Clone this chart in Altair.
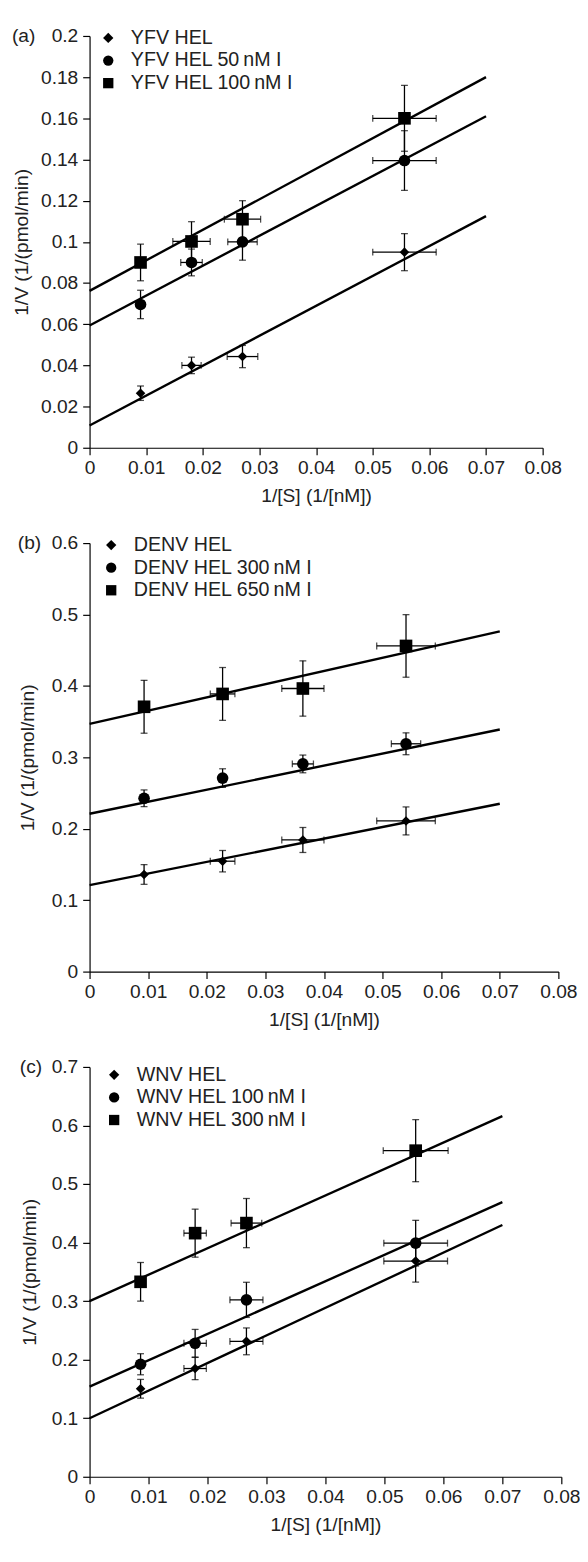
import altair as alt
import pandas as pd

FONT = "Liberation Sans"
FS = 19.5
LFS = 20

# ---------------- panel (a) ----------------
A_LABEL = "(a)"
A_SERIES = ["YFV HEL", "YFV HEL 50\u2009nM I", "YFV HEL 100\u2009nM I"]
A_X = [0.009, 0.018, 0.027, 0.0556]
A_Y = [[0.0265, 0.0400, 0.0443, 0.0950],
       [0.0696, 0.0900, 0.1000, 0.1395],
       [0.0900, 0.1002, 0.1110, 0.1600]]
A_YERR = [[0.0035, 0.0040, 0.0054, 0.0090],
          [0.0069, 0.0065, 0.0089, 0.0145],
          [0.0089, 0.0096, 0.0090, 0.0160]]
A_XERR = [[0.0, 0.0017, 0.0027, 0.0056],
          [0.0, 0.0019, 0.0026, 0.0056],
          [0.0, 0.0033, 0.0032, 0.0056]]
A_LINE_START = [0.0108, 0.0594, 0.0762]
A_LINE_END = [0.1125, 0.1610, 0.1800]
A_YTICKS = [0, 0.02, 0.04, 0.06, 0.08, 0.1, 0.12, 0.14, 0.16, 0.18, 0.2]

# ---------------- panel (b) ----------------
B_LABEL = "(b)"
B_SERIES = ["DENV HEL", "DENV HEL 300\u2009nM I", "DENV HEL 650\u2009nM I"]
B_X = [0.0093, 0.0227, 0.0364, 0.054]
B_Y = [[0.1360, 0.1546, 0.1843, 0.2110],
       [0.2427, 0.2710, 0.2908, 0.3190],
       [0.3708, 0.3888, 0.3964, 0.4560]]
B_YERR = [[0.0138, 0.0150, 0.0175, 0.0196],
          [0.0117, 0.0130, 0.0124, 0.0153],
          [0.0370, 0.0370, 0.0387, 0.0438]]
B_XERR = [[0.0, 0.0021, 0.0036, 0.0050],
          [0.0, 0.0, 0.0018, 0.0025],
          [0.0, 0.0021, 0.0036, 0.0050]]
B_LINE_START = [0.121, 0.221, 0.347]
B_LINE_END = [0.235, 0.339, 0.4765]
B_YTICKS = [0, 0.1, 0.2, 0.3, 0.4, 0.5, 0.6]

# ---------------- panel (c) ----------------
C_LABEL = "(c)"
C_SERIES = ["WNV HEL", "WNV HEL 100\u2009nM I", "WNV HEL 300\u2009nM I"]
C_X = [0.00865, 0.0179, 0.0266, 0.0553]
C_Y = [[0.1503, 0.1849, 0.2313, 0.3685],
       [0.1922, 0.2280, 0.3022, 0.3990],
       [0.3330, 0.4161, 0.4333, 0.5570]]
C_YERR = [[0.016, 0.019, 0.0229, 0.036],
          [0.018, 0.0237, 0.030, 0.039],
          [0.033, 0.041, 0.042, 0.053]]
C_XERR = [[0.0, 0.0019, 0.0028, 0.0054],
          [0.0, 0.0019, 0.0028, 0.0054],
          [0.0, 0.0019, 0.0026, 0.0055]]
C_LINE_START = [0.100, 0.154, 0.300]
C_LINE_END = [0.430, 0.469, 0.616]
C_YTICKS = [0, 0.1, 0.2, 0.3, 0.4, 0.5, 0.6, 0.7]

X_TICKS = [0, 0.01, 0.02, 0.03, 0.04, 0.05, 0.06, 0.07, 0.08]
LINE_X = [0.0, 0.07]
SHAPES = ["diamond", "circle", "square"]
SIZES = [95, 140, 165]
X_TITLE = "1/[S] (1/[nM])"
Y_TITLE = "1/V (1/(pmol/min)"


def make_panel(label, series, xs, ys, yerrs, xerrs, l0, l1, yticks, yfmt,
               width, height, left, legx, legy):
    pts, vcaps, hbars, hcaps, lines = [], [], [], [], []
    for i, s in enumerate(series):
        for j, xv in enumerate(xs):
            yv, ye, xe = ys[i][j], yerrs[i][j], xerrs[i][j]
            pts.append({"series": s, "x": xv, "y": yv, "ylo": yv - ye, "yhi": yv + ye})
            vcaps.append({"x": xv, "y": yv - ye})
            vcaps.append({"x": xv, "y": yv + ye})
            if xe > 0:
                hbars.append({"y": yv, "xlo": xv - xe, "xhi": xv + xe})
                hcaps.append({"x": xv - xe, "y": yv})
                hcaps.append({"x": xv + xe, "y": yv})
        lines.append({"series": s, "x": LINE_X[0], "y": l0[i]})
        lines.append({"series": s, "x": LINE_X[1], "y": l1[i]})

    xs_ = alt.Scale(domain=[0, 0.08], nice=False, zero=False)
    ys_ = alt.Scale(domain=[0, yticks[-1]], nice=False, zero=False)
    xax = alt.Axis(values=X_TICKS, format=".2~f", title=X_TITLE, grid=False,
                   domainColor="black", tickColor="black", tickSize=7, tickWidth=1.2,
                   domainWidth=1.2, labelFont=FONT, labelFontSize=FS, labelColor="#222",
                   labelPadding=4, titleFont=FONT, titleFontSize=FS, titleFontWeight="normal",
                   titleColor="#222", titlePadding=10, labelFlush=False, labelOverlap=False)
    yax = alt.Axis(values=yticks, format=yfmt, title=Y_TITLE, grid=False,
                   domainColor="black", tickColor="black", tickSize=7, tickWidth=1.2,
                   domainWidth=1.2, labelFont=FONT, labelFontSize=FS, labelColor="#222",
                   labelPadding=5, titleFont=FONT, titleFontSize=FS, titleFontWeight="normal",
                   titleColor="#222", titleX=-(left - 32), titleY=height / 2,
                   labelFlush=False, labelOverlap=False)

    pdf = pd.DataFrame(pts)
    base_p = alt.Chart(pdf)
    line_l = alt.Chart(pd.DataFrame(lines)).mark_line(color="black", strokeWidth=2.4).encode(
        x=alt.X("x:Q", scale=xs_, axis=xax), y=alt.Y("y:Q", scale=ys_, axis=yax),
        detail="series:N")
    vbar = base_p.mark_rule(color="black", strokeWidth=1.3).encode(
        x=alt.X("x:Q", scale=xs_), y=alt.Y("ylo:Q", scale=ys_), y2="yhi:Q")
    vcap = alt.Chart(pd.DataFrame(vcaps)).mark_tick(
        orient="horizontal", color="black", size=7, thickness=1.3).encode(
        x=alt.X("x:Q", scale=xs_), y=alt.Y("y:Q", scale=ys_))
    layers = [line_l, vbar, vcap]
    if hbars:
        hbar = alt.Chart(pd.DataFrame(hbars)).mark_rule(color="black", strokeWidth=1.3).encode(
            x=alt.X("xlo:Q", scale=xs_), x2="xhi:Q", y=alt.Y("y:Q", scale=ys_))
        hcap = alt.Chart(pd.DataFrame(hcaps)).mark_tick(
            orient="vertical", color="black", size=7, thickness=1.3).encode(
            x=alt.X("x:Q", scale=xs_), y=alt.Y("y:Q", scale=ys_))
        layers += [hbar, hcap]
    shape_scale = alt.Scale(domain=series, range=SHAPES)
    legend = alt.Legend(title=None, orient="none", legendX=legx, legendY=legy,
                        labelFont=FONT, labelFontSize=LFS, labelColor="#222",
                        symbolFillColor="black", symbolStrokeColor="black",
                        symbolStrokeWidth=0, symbolSize=110, symbolOpacity=1,
                        rowPadding=3, labelOffset=13, padding=0, labelLimit=400)
    for i, s in enumerate(series):
        layers.append(
            alt.Chart(pdf[pdf["series"] == s]).mark_point(
                filled=True, opacity=1, color="black", strokeWidth=0, size=SIZES[i]).encode(
                x=alt.X("x:Q", scale=xs_), y=alt.Y("y:Q", scale=ys_),
                shape=alt.Shape("series:N", scale=shape_scale, legend=legend)))
    lab = alt.Chart(pd.DataFrame({"t": [label]})).mark_text(
        align="left", baseline="middle", font=FONT, fontSize=FS, color="#222").encode(
        x=alt.value(-(left - 12)), y=alt.value(0), text="t:N")
    layers.append(lab)
    return alt.layer(*layers).properties(width=width, height=height)


pa = make_panel(A_LABEL, A_SERIES, A_X, A_Y, A_YERR, A_XERR, A_LINE_START, A_LINE_END,
                A_YTICKS, ".2~f", 461, 419, 91, 9, -8)
pb = make_panel(B_LABEL, B_SERIES, B_X, B_Y, B_YERR, B_XERR, B_LINE_START, B_LINE_END,
                B_YTICKS, ".1~f", 477, 436, 85, 12, -8)
pc = make_panel(C_LABEL, C_SERIES, C_X, C_Y, C_YERR, C_XERR, C_LINE_START, C_LINE_END,
                C_YTICKS, ".1~f", 480, 417, 83, 15, -2)

chart = alt.vconcat(pa, pb, pc, spacing=29).resolve_scale(
    shape="independent").resolve_legend(shape="independent").properties(
    padding={"left": 4, "top": 5, "right": 0, "bottom": 0},
    background="white").configure_view(stroke=None)

chart.save("out.html", embed_options={"renderer": "svg", "actions": False})
